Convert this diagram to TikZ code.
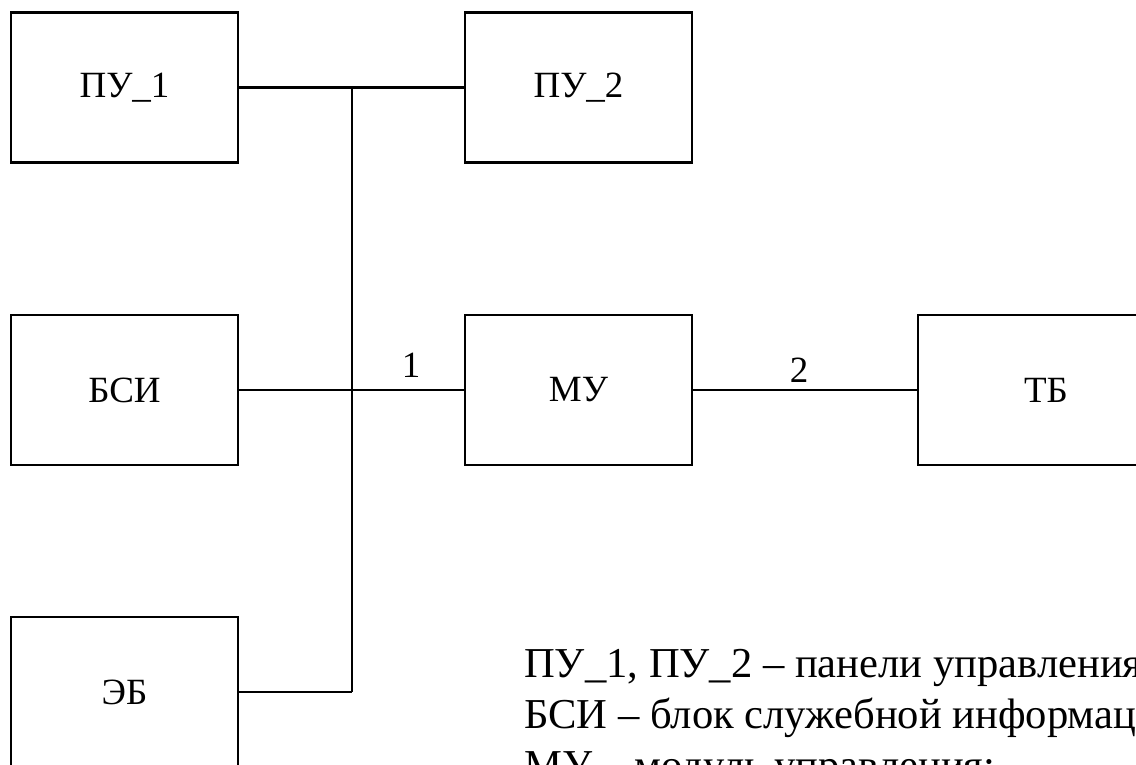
\documentclass[tikz,border=0pt]{standalone}
\usepackage{fontspec}
\setmainfont{Liberation Serif}
\usepackage{tikz}
\usetikzlibrary{positioning}

\begin{document}
\begin{tikzpicture}[x=1pt, y=-1pt,
        every node/.style={font=\fontsize{37}{50}\selectfont},
        block/.style={draw, rectangle, line width=2.6pt, inner sep=0pt,
                      minimum width=227pt, minimum height=150pt},
        link/.style={line width=2.5pt, black},
        legend/.style={anchor=base west, inner sep=0pt, font=\fontsize{42.6}{51}\selectfont}
      ]
        % Fixe Bounding-Box
        \useasboundingbox (0,0) rectangle (1136,765);

        % Bloecke
        \node[block] (pu1) at (124.5,87.5) {ПУ\_1};
        \node[block] (pu2) at (578.5,87.5) {ПУ\_2};
        \node[block] (bsi) at (124.5,390) {БСИ};
        \node[block] (mu)  at (578.5,390) {МУ};
        \node[block, minimum width=256pt] (tb) at (1046,390) {ТБ};
        \node[block] (eb)  at (124.5,692) {ЭБ};

        % Schiene
        \coordinate (bustop) at (352,87.5);
        \coordinate (busbot) at (352,692);

        % Verbindungen
        \draw[link] (pu1.east) -- (pu2.west);
        \draw[link] (bustop) -- (busbot);
        \draw[link] (bsi.east) -- (mu.west);
        \draw[link] (eb.east) -- (busbot);
        \draw[link] (mu.east) -- (tb.west);

        % Leitungsnummern
        \node[anchor=base, inner sep=0pt] (l1) at (411,377) {1};
        \node[anchor=base, inner sep=0pt] (l2) at (799,382) {2};

        % Legende
        \node[legend] (leg1) at (524,677) {ПУ\_1, ПУ\_2 – панели управления;};
        \node[legend] (leg2) at (524,728) {БСИ – блок служебной информации;};
        \node[legend] (leg3) at (524,779) {МУ – модуль управления;};
      \end{tikzpicture}
\end{document}
